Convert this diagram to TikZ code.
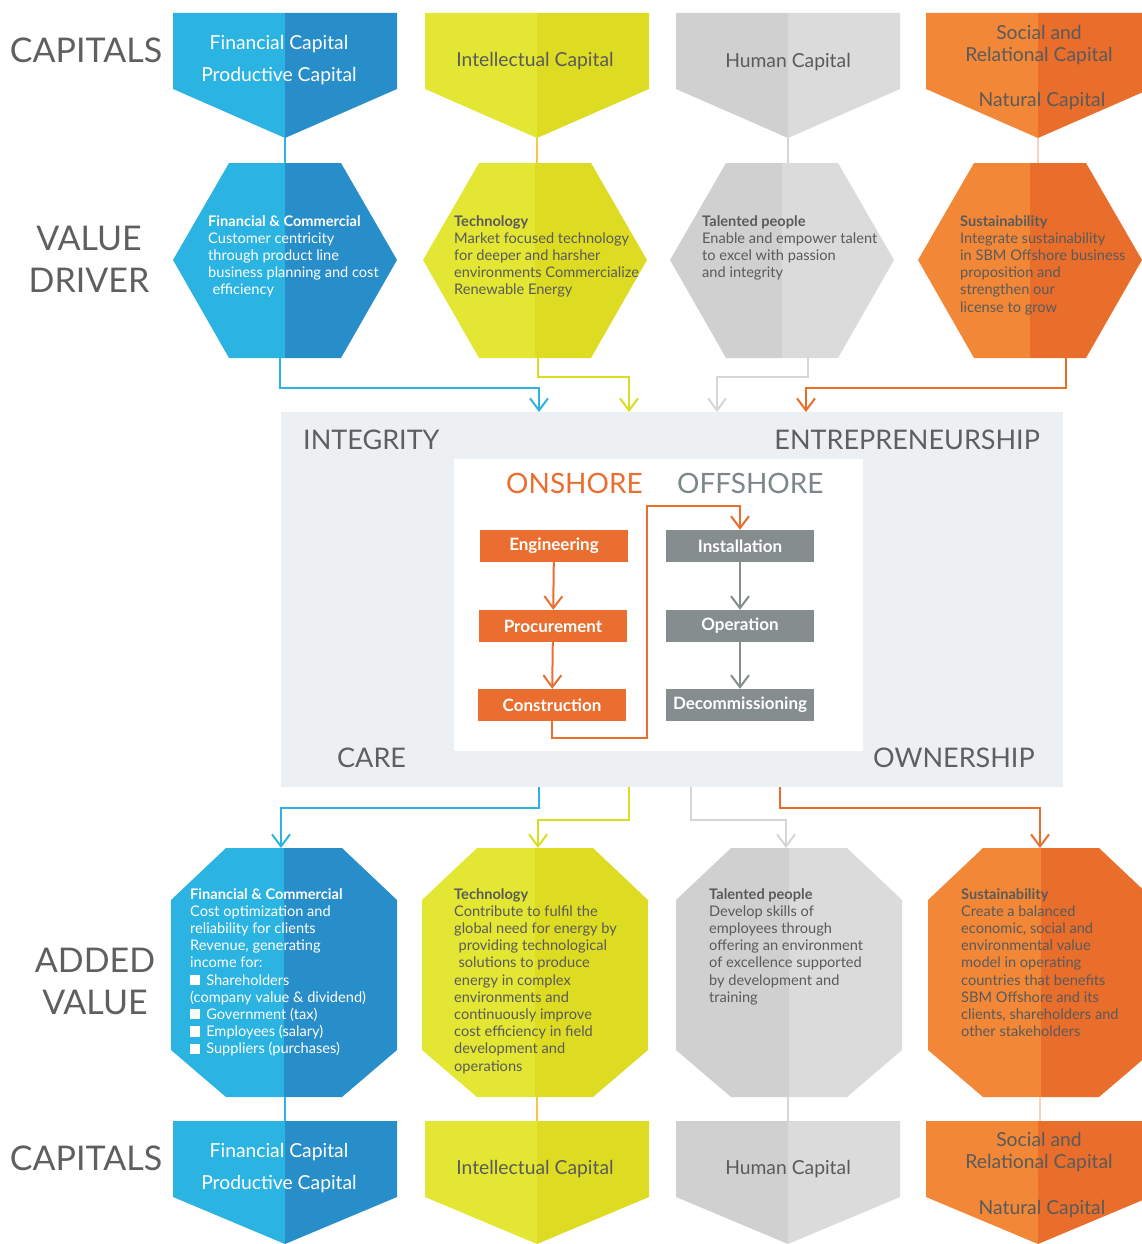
\documentclass[tikz,border=0pt]{standalone}
\usepackage{fontspec}
\setmainfont{Lato}
\usetikzlibrary{arrows.meta,positioning}

\definecolor{blueL}{HTML}{2BB3E1}
\definecolor{blueD}{HTML}{288EC9}
\definecolor{yelL}{HTML}{E3E632}
\definecolor{yelD}{HTML}{DEDC22}
\definecolor{greyL}{HTML}{D0D0D0}
\definecolor{greyD}{HTML}{DBDBDB}
\definecolor{orL}{HTML}{F28737}
\definecolor{orD}{HTML}{E96D2B}
\definecolor{panel}{HTML}{EDF0F3}
\definecolor{boxor}{HTML}{EA6E2F}
\definecolor{boxgr}{HTML}{858D8F}
\definecolor{labgrey}{HTML}{5E5F61}
\definecolor{txtgrey}{HTML}{5A5A5A}
\definecolor{offgrey}{HTML}{7D8789}
\definecolor{goldline}{HTML}{F2C94C}
\definecolor{peachline}{HTML}{F6D3BC}
\definecolor{greyline}{HTML}{D6D6D6}
\definecolor{yelarrow}{HTML}{D9DD1F}

\begin{document}
\begin{tikzpicture}[x=1pt,y=-1pt,
    side/.style={inner sep=0,text=labgrey,align=center,font=\fontsize{34}{42}\selectfont},
    captext/.style={inner sep=0,align=center,text=txtgrey,font=\fontsize{19.3}{22}\selectfont},
    drvtext/.style={anchor=north west,inner sep=0,align=left,text=txtgrey,font=\fontsize{14.6}{17.2}\selectfont},
    value/.style={anchor=base west,inner sep=0,text=labgrey,font=\fontsize{27}{30}\selectfont},
    stepbox/.style={minimum width=148pt,minimum height=32pt,inner sep=0,text=white,font=\bfseries\fontsize{17}{19}\selectfont},
    flow/.style={line width=2pt,-{Straight Barb[length=12pt,width=18pt]}},
    link/.style={line width=2pt}]
    \useasboundingbox (0,0) rectangle (1142,1244);
    \clip (0,0) rectangle (1142,1244);

    % Capitals, top and bottom
    \foreach \c/\lc/\dc in {285/blueL/blueD,537/yelL/yelD,788/greyL/greyD,1038/orL/orD} {
        \fill[\lc] (\c-112,13) -- (\c,13) -- (\c,138) -- (\c-112,89) -- cycle;
        \fill[\dc] (\c,13) -- (\c+112,13) -- (\c+112,89) -- (\c,138) -- cycle;
        \fill[\lc] (\c-112,1121) -- (\c,1121) -- (\c,1244) -- (\c-112,1197) -- cycle;
        \fill[\dc] (\c,1121) -- (\c+112,1121) -- (\c+112,1197) -- (\c,1244) -- cycle;
    }

    % Value drivers (hexagons)
    \foreach \c/\lc/\dc in {285/blueL/blueD,535/yelL/yelD,782/greyL/greyD,1030/orL/orD} {
        \fill[\lc] (\c-112,260) -- (\c-56,163) -- (\c,163) -- (\c,358) -- (\c-56,358) -- cycle;
        \fill[\dc] (\c,163) -- (\c+56,163) -- (\c+112,260) -- (\c+56,358) -- (\c,358) -- cycle;
    }

    % Added value (octagons)
    \foreach \c/\lc/\dc in {284/blueL/blueD,535/yelL/yelD,789/greyL/greyD,1041/orL/orD} {
        \fill[\lc] (\c,848) -- (\c-58,848) -- (\c-113,900) -- (\c-113,1050) -- (\c-58,1097) -- (\c,1097) -- cycle;
        \fill[\dc] (\c,848) -- (\c+58,848) -- (\c+113,900) -- (\c+113,1050) -- (\c+58,1097) -- (\c,1097) -- cycle;
    }

    % The core
    \fill[panel] (281,412) rectangle (1063,787);
    \fill[white] (454,459) rectangle (863,751);

    % Row labels
    \node[side] (cap-top) at (86,50) {CAPITALS};
    \node[side] (drv) at (89,259) {VALUE\\DRIVER};
    \node[side] (add) at (95,981) {ADDED\\VALUE};
    \node[side] (cap-bot) at (86,1158) {CAPITALS};

    % Capital texts
    \node[captext,text=white,font=\fontsize{19.3}{32}\selectfont] (fin-cap) at (279,60) {Financial Capital\\Productive Capital};
    \node[captext] (int-cap) at (535,61) {Intellectual Capital};
    \node[captext] (hum-cap) at (788,62) {Human Capital};
    \node[captext] (soc-cap) at (1039,45) {Social and\\Relational Capital};
    \node[captext] (nat-cap) at (1042,101) {Natural Capital};
    \node[captext,text=white,font=\fontsize{19.3}{32}\selectfont] (fin-cap2) at (279,1168) {Financial Capital\\Productive Capital};
    \node[captext] (int-cap2) at (535,1169) {Intellectual Capital};
    \node[captext] (hum-cap2) at (788,1169) {Human Capital};
    \node[captext] (soc-cap2) at (1039,1152) {Social and\\Relational Capital};
    \node[captext] (nat-cap2) at (1042,1209) {Natural Capital};

    % Value driver texts
    \node[drvtext,text=white] (fin-drv) at (208,215) {\textbf{Financial \& Commercial}\\Customer centricity\\through product line\\business planning and cost\\\hspace{0.3em}efficiency};
    \node[drvtext] (tech-drv) at (454,215) {\textbf{Technology}\\Market focused technology\\for deeper and harsher\\environments Commercialize\\Renewable Energy};
    \node[drvtext] (tal-drv) at (702,215) {\textbf{Talented people}\\Enable and empower talent\\to excel with passion\\and integrity};
    \node[drvtext] (sus-drv) at (960,215) {\textbf{Sustainability}\\Integrate sustainability\\in SBM Offshore business\\proposition and\\strengthen our\\license to grow};

    % Added value texts
    \node[drvtext,text=white] (fin-add) at (190,888) {\textbf{Financial \& Commercial}\\Cost optimization and\\reliability for clients\\Revenue, generating\\income for:\\\rule{0.7em}{0.7em}\hspace{0.4em}Shareholders\\(company value \& dividend)\\\rule{0.7em}{0.7em}\hspace{0.4em}Government (tax)\\\rule{0.7em}{0.7em}\hspace{0.4em}Employees (salary)\\\rule{0.7em}{0.7em}\hspace{0.4em}Suppliers (purchases)};
    \node[drvtext] (tech-add) at (454,888) {\textbf{Technology}\\Contribute to fulfil the\\global need for energy by\\\hspace{0.3em}providing technological\\\hspace{0.3em}solutions to produce\\energy in complex\\environments and\\continuously improve\\cost efficiency in field\\development and\\operations};
    \node[drvtext] (tal-add) at (709,888) {\textbf{Talented people}\\Develop skills of\\employees through\\offering an environment\\of excellence supported\\by development and\\training};
    \node[drvtext] (sus-add) at (961,888) {\textbf{Sustainability}\\Create a balanced\\economic, social and\\environmental value\\model in operating\\countries that benefits\\SBM Offshore and its\\clients, shareholders and\\other stakeholders};

    % Core values
    \node[value] (integrity) at (303,449) {INTEGRITY};
    \node[value,anchor=base east] (entre) at (1040,449) {ENTREPRENEURSHIP};
    \node[value] (care) at (337,767) {CARE};
    \node[value] (owner) at (873,767) {OWNERSHIP};
    \node[value,text=boxor,font=\fontsize{28}{30}\selectfont] (onshore) at (506,493) {ONSHORE};
    \node[value,text=offgrey,font=\fontsize{28}{30}\selectfont] (offshore) at (677,493) {OFFSHORE};

    % Life cycle
    \node[stepbox,fill=boxor] (eng) at (554,546) {Engineering};
    \node[stepbox,fill=boxor] (proc) at (553,626) {Procurement};
    \node[stepbox,fill=boxor] (cons) at (552,705) {Construction};
    \node[stepbox,fill=boxgr] (inst) at (740,546) {Installation};
    \node[stepbox,fill=boxgr] (oper) at (740,626) {Operation};
    \node[stepbox,fill=boxgr] (decom) at (740,705) {Decommissioning};
    \draw[flow,boxor] (eng) -- (proc);
    \draw[flow,boxor] (proc) -- (cons);
    \draw[flow,boxor] (cons.south) -- ++(0,17) -| (647,506) -| (inst.north);
    \draw[flow,boxgr] (inst) -- (oper);
    \draw[flow,boxgr] (oper) -- (decom);

    % Connection points
    \coordinate (fin-c1) at (285,138);  \coordinate (fin-h) at (285,163);
    \coordinate (tech-c1) at (537,138); \coordinate (tech-h) at (537,163);
    \coordinate (tal-c1) at (788,138);  \coordinate (tal-h) at (788,163);
    \coordinate (sus-c1) at (1038,138); \coordinate (sus-h) at (1038,163);
    \coordinate (fin-hb) at (280,358);  \coordinate (fin-in) at (539,412);
    \coordinate (tech-hb) at (538,358); \coordinate (tech-in) at (629,412);
    \coordinate (tal-hb) at (808,358);  \coordinate (tal-in) at (717,412);
    \coordinate (sus-hb) at (1066,358); \coordinate (sus-in) at (806,412);
    \coordinate (fin-out) at (539,787); \coordinate (fin-o) at (281,848);
    \coordinate (tech-out) at (629,787);\coordinate (tech-o) at (538,848);
    \coordinate (tal-out) at (691,787); \coordinate (tal-o) at (786,848);
    \coordinate (sus-out) at (780,787); \coordinate (sus-o) at (1040,848);
    \coordinate (fin-ob) at (285,1097); \coordinate (fin-c2) at (285,1121);
    \coordinate (tech-ob) at (537,1097);\coordinate (tech-c2) at (537,1121);
    \coordinate (tal-ob) at (788,1097); \coordinate (tal-c2) at (788,1121);
    \coordinate (sus-ob) at (1040,1097);\coordinate (sus-c2) at (1040,1121);

    % Capitals into value drivers
    \draw[link,blueL] (fin-c1) -- (fin-h);
    \draw[link,goldline] (tech-c1) -- (tech-h);
    \draw[link,greyline] (tal-c1) -- (tal-h);
    \draw[link,peachline] (sus-c1) -- (sus-h);

    % Value drivers into the core
    \draw[flow,blueL] (fin-hb) -- ++(0,30) -| (fin-in);
    \draw[flow,yelarrow] (tech-hb) -- ++(0,19) -| (tech-in);
    \draw[flow,greyline] (tal-hb) -- ++(0,19) -| (tal-in);
    \draw[flow,orD] (sus-hb) -- ++(0,30) -| (sus-in);

    % Core into added value
    \draw[flow,blueL] (fin-out) -- ++(0,21) -| (fin-o);
    \draw[flow,yelarrow] (tech-out) -- ++(0,33) -| (tech-o);
    \draw[flow,greyline] (tal-out) -- ++(0,33) -| (tal-o);
    \draw[flow,orD] (sus-out) -- ++(0,21) -| (sus-o);

    % Added value back to capitals
    \draw[link,blueL] (fin-ob) -- (fin-c2);
    \draw[link,goldline] (tech-ob) -- (tech-c2);
    \draw[link,greyline] (tal-ob) -- (tal-c2);
    \draw[link,peachline] (sus-ob) -- (sus-c2);
\end{tikzpicture}
\end{document}
